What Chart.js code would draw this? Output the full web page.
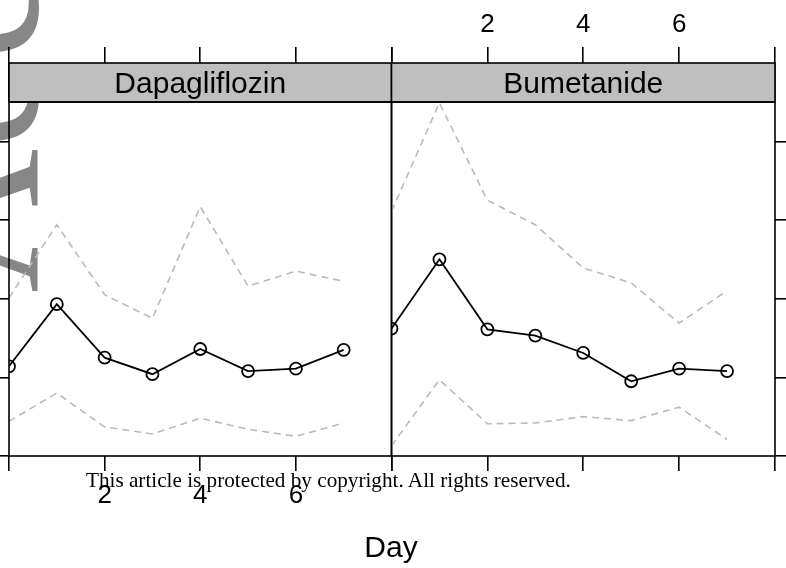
<!DOCTYPE html>
<html>
<head>
<meta charset="utf-8">
<script src="https://cdn.jsdelivr.net/npm/chart.js@4.4.0/dist/chart.umd.min.js"></script>
<style>
html,body{margin:0;padding:0;background:#fff;overflow:hidden;width:786px;height:568px;}
#wrap{position:relative;width:786px;height:568px;overflow:hidden;}
canvas{position:absolute;left:0;top:0;}
#wm{position:absolute;left:-130px;top:293px;transform-origin:0 0;transform:rotate(-90deg);
  font-family:"Liberation Serif","Times New Roman",serif;font-size:200px;line-height:1;color:#878787;white-space:nowrap;}
#copy{position:absolute;left:86px;top:470px;font-family:"Liberation Serif","Times New Roman",serif;
  font-size:21.2px;line-height:1;color:#000;white-space:nowrap;}
#xt{position:absolute;left:0;width:782px;top:532px;text-align:center;font-family:"Liberation Sans",Arial,sans-serif;
  font-size:30px;line-height:1;color:#000;}
</style>
</head>
<body>
<div id="wrap">
  <div id="wm">Accepted Article</div>
  <canvas id="c1" width="786" height="568"></canvas>
  <canvas id="c2" width="786" height="568"></canvas>
  <div id="copy">This article is protected by copyright. All rights reserved.</div>
  <div id="xt">Day</div>
</div>
<script>
// ---- data ----
const days = [0, 1, 2, 3, 4, 5, 6, 7];
const panelNames = ['Dapagliflozin', 'Bumetanide'];
const dapaMean  = [1.14, 1.93, 1.25, 1.04, 1.36, 1.08, 1.11, 1.35];
const dapaUpper = [2.01, 2.94, 2.05, 1.75, 3.17, 2.16, 2.35, 2.22];
const dapaLower = [0.44, 0.80, 0.37, 0.28, 0.48, 0.34, 0.25, 0.42];
const bumeMean  = [1.62, 2.50, 1.61, 1.53, 1.31, 0.95, 1.11, 1.08];
const bumeUpper = [3.11, 4.49, 3.25, 2.94, 2.39, 2.20, 1.69, 2.10];
const bumeLower = [0.13, 0.97, 0.41, 0.42, 0.50, 0.45, 0.62, 0.21];
const xTickValues = [0, 2, 4, 6, 8];
const xTickLabels = ['2', '4', '6'];
const yTickValues = [0, 1, 2, 3, 4];

Chart.defaults.font.family = '"Liberation Sans", Arial, sans-serif';
Chart.defaults.color = '#000';

const tickFont = {size: 26, family: '"Liberation Sans", Arial, sans-serif'};
const lw = 1.6;

function stripPlugin(name) {
  return {
    id: 'strip' + name,
    afterDraw(chart) {
      const a = chart.chartArea, ctx = chart.ctx;
      ctx.save();
      const sh = 39;
      ctx.fillStyle = '#bfbfbf';
      ctx.fillRect(a.left, a.top - sh, a.right - a.left, sh);
      ctx.strokeStyle = '#000';
      ctx.lineWidth = lw;
      ctx.strokeRect(a.left, a.top - sh, a.right - a.left, sh);
      ctx.strokeRect(a.left, a.top, a.right - a.left, a.bottom - a.top);
      ctx.fillStyle = '#000';
      ctx.font = '30px "Liberation Sans", Arial, sans-serif';
      ctx.textAlign = 'center';
      ctx.textBaseline = 'alphabetic';
      ctx.fillText(name, (a.left + a.right) / 2, a.top - 9);
      ctx.restore();
    }
  };
}

function makePanel(id, name, mean, upper, lower, isLeft) {
  const pts = arr => days.map((d, i) => ({x: d, y: arr[i]}));
  const dashed = {
    xAxisID: 'x', yAxisID: 'y',
    borderColor: '#bababa', borderWidth: 1.6, borderDash: [7, 5],
    pointRadius: 0, fill: false, tension: 0
  };
  const xTicks = s => { s.ticks = xTickValues.map(v => ({value: v})); };
  const xLabel = v => xTickLabels.includes(String(v)) ? String(v) : '';
  const tickGrid = len => ({display: true, drawOnChartArea: false, drawTicks: true, tickLength: len, color: '#000', lineWidth: lw});
  return new Chart(document.getElementById(id), {
    type: 'line',
    data: {
      datasets: [
        Object.assign({data: pts(upper)}, dashed),
        Object.assign({data: pts(lower)}, dashed),
        {data: pts(mean), xAxisID: 'x', yAxisID: 'y', borderColor: '#000', borderWidth: 1.8,
         pointRadius: 6, pointBorderWidth: 1.8, pointBorderColor: '#000',
         pointBackgroundColor: 'rgba(0,0,0,0)', fill: false, tension: 0}
      ]
    },
    options: {
      responsive: false, animation: false, events: [],
      layout: {padding: {left: isLeft ? 0 : 391.5, right: isLeft ? 394.5 : 0, top: 0, bottom: 0}},
      plugins: {legend: {display: false}, tooltip: {enabled: false}},
      scales: {
        x: {type: 'linear', axis: 'x', position: 'bottom', min: 0, max: 8,
            afterBuildTicks: xTicks,
            ticks: {display: isLeft, callback: xLabel, font: tickFont, color: '#000', padding: 9,
                    maxRotation: 0, minRotation: 0, autoSkip: false},
            grid: tickGrid(15), border: {display: false},
            afterFit: s => { s.height = 112; }},
        xt: {type: 'linear', axis: 'x', position: 'top', min: 0, max: 8,
            afterBuildTicks: xTicks,
            ticks: {display: !isLeft, callback: xLabel, font: tickFont, color: '#000', padding: 7,
                    maxRotation: 0, minRotation: 0, autoSkip: false},
            grid: tickGrid(55), border: {display: false},
            afterFit: s => { s.height = 102; }},
        y: {type: 'linear', axis: 'y', position: isLeft ? 'left' : 'right', min: 0, max: 4.5,
            afterBuildTicks: s => { s.ticks = yTickValues.map(v => ({value: v})); },
            ticks: {display: false},
            grid: tickGrid(15), border: {display: false},
            afterFit: s => { s.width = isLeft ? 8 : 11; }}
      }
    },
    plugins: [stripPlugin(name)]
  });
}

makePanel('c1', panelNames[0], dapaMean, dapaUpper, dapaLower, true);
makePanel('c2', panelNames[1], bumeMean, bumeUpper, bumeLower, false);
</script>
</body>
</html>
